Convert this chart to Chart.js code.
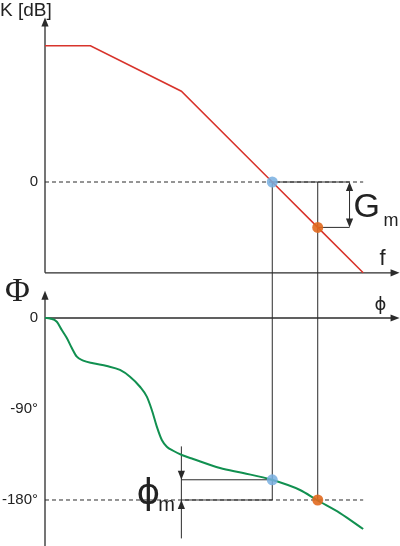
<!DOCTYPE html>
<html>
<head>
<meta charset="utf-8">
<script src="https://cdn.jsdelivr.net/npm/chart.js@4"></script>
<style>
body { margin:0; background:#fff; }
canvas { display:block; }
</style>
</head>
<body>
<canvas id="bode" width="400" height="546"></canvas>
<script>
// x = log frequency (decades), gain in dB
var freq   = [0, 1, 3, 5, 6, 7];
var gainDb = [120, 120, 80, 0, -40, -80];

// phase curve
var phaseFreq = [0, 0.11, 0.26, 0.37, 0.48, 0.59, 0.70, 0.84, 1.06, 1.36, 1.65, 1.87, 2.09, 2.24, 2.35, 2.46, 2.57, 2.68, 2.82, 3.01, 3.26, 3.85, 4.36, 4.99, 5.61, 5.98, 6.49, 7.0];
var phaseDeg  = [0, -0.5, -3.7, -11.9, -19.8, -29.7, -38.3, -42.2, -44.8, -47.5, -51.4, -58.1, -68, -77.8, -91, -107.5, -120.7, -127.3, -131.3, -135.5, -139.5, -148.4, -153.3, -160, -170.1, -180, -192.9, -208.7];

var gainCross = 5, phaseCross = 6;
var phaseAtGainCross = -160, gainAtPhaseCross = -40;
var gainTickVals = [0], gainTickLabels = ['0'];
var phaseTickVals = [0, -90, -180], phaseTickLabels = ['0', '-90°', '-180°'];
var gmBracketFreq = 6.7, pmBracketFreq = 3;
var refLineEnd = 7;
var gainAxis = [-80, 145], phaseAxis = [-226, 27];

var ink = '#2b2b2b';

function pts(xs, ys) {
	var out = [];
	for (var i = 0; i < xs.length; i++) { out.push({x: xs[i], y: ys[i]}); }
	return out;
}

function arrow(ctx, x, y, dir) {
	var L = 9, W = 3.6;
	ctx.beginPath();
	ctx.moveTo(x, y);
	if (dir == 'up')    { ctx.lineTo(x - W, y + L); ctx.lineTo(x + W, y + L); }
	if (dir == 'down')  { ctx.lineTo(x - W, y - L); ctx.lineTo(x + W, y - L); }
	if (dir == 'right') { ctx.lineTo(x - L, y - W); ctx.lineTo(x - L, y + W); }
	ctx.closePath();
	ctx.fill();
}

function seg(ctx, x1, y1, x2, y2) {
	ctx.beginPath(); ctx.moveTo(x1, y1); ctx.lineTo(x2, y2); ctx.stroke();
}

var bodeDecor = {
	id: 'bodeDecor',
	beforeDatasetsDraw: function(chart) {
		var ctx = chart.ctx, X = chart.scales.x, K = chart.scales.yK, P = chart.scales.yPhi;
		var x0 = X.getPixelForValue(0), xTip = X.getPixelForValue(7.8);
		ctx.save();
		ctx.strokeStyle = ink; ctx.fillStyle = ink; ctx.lineWidth = 1.3;

		// gain axes
		seg(ctx, x0, K.getPixelForValue(gainAxis[0]), x0, K.getPixelForValue(gainAxis[1]) + 6);
		arrow(ctx, x0, K.getPixelForValue(gainAxis[1]), 'up');
		seg(ctx, x0, K.getPixelForValue(gainAxis[0]), xTip - 6, K.getPixelForValue(gainAxis[0]));
		arrow(ctx, xTip, K.getPixelForValue(gainAxis[0]), 'right');

		// phase axes
		seg(ctx, x0, P.getPixelForValue(phaseAxis[0]), x0, P.getPixelForValue(phaseAxis[1]) + 6);
		arrow(ctx, x0, P.getPixelForValue(phaseAxis[1]), 'up');
		seg(ctx, x0, P.getPixelForValue(0), xTip - 6, P.getPixelForValue(0));
		arrow(ctx, xTip, P.getPixelForValue(0), 'right');

		// dashed reference lines
		ctx.lineWidth = 1;
		ctx.setLineDash([4, 3]);
		seg(ctx, x0, K.getPixelForValue(0), X.getPixelForValue(refLineEnd), K.getPixelForValue(0));
		seg(ctx, x0, P.getPixelForValue(-180), X.getPixelForValue(refLineEnd), P.getPixelForValue(-180));
		ctx.setLineDash([]);

		// crossover verticals through both plots
		[gainCross, phaseCross].forEach(function(f) {
			var px = X.getPixelForValue(f);
			seg(ctx, px, K.getPixelForValue(0), px, P.getPixelForValue(-180));
		});

		// gain margin bracket
		var gx = X.getPixelForValue(gmBracketFreq);
		seg(ctx, X.getPixelForValue(gainCross), K.getPixelForValue(0), gx, K.getPixelForValue(0));
		seg(ctx, X.getPixelForValue(phaseCross), K.getPixelForValue(gainAtPhaseCross), gx, K.getPixelForValue(gainAtPhaseCross));
		seg(ctx, gx, K.getPixelForValue(0) + 6, gx, K.getPixelForValue(gainAtPhaseCross) - 6);
		arrow(ctx, gx, K.getPixelForValue(0), 'up');
		arrow(ctx, gx, K.getPixelForValue(gainAtPhaseCross), 'down');

		// phase margin bracket
		var bx = X.getPixelForValue(pmBracketFreq);
		seg(ctx, bx, P.getPixelForValue(phaseAtGainCross), X.getPixelForValue(gainCross), P.getPixelForValue(phaseAtGainCross));
		seg(ctx, bx, P.getPixelForValue(-180), X.getPixelForValue(gainCross), P.getPixelForValue(-180));
		seg(ctx, bx, P.getPixelForValue(-127), bx, P.getPixelForValue(-218));
		arrow(ctx, bx, P.getPixelForValue(phaseAtGainCross), 'down');
		arrow(ctx, bx, P.getPixelForValue(-180), 'up');

		// tick labels
		ctx.fillStyle = '#222';
		ctx.font = '15px Arial, "Liberation Sans", sans-serif';
		ctx.textAlign = 'right'; ctx.textBaseline = 'middle';
		gainTickVals.forEach(function(v, i) { ctx.fillText(gainTickLabels[i], x0 - 7, K.getPixelForValue(v)); });
		phaseTickVals.forEach(function(v, i) { ctx.fillText(phaseTickLabels[i], x0 - 7, P.getPixelForValue(v)); });

		// axis titles
		ctx.textAlign = 'left'; ctx.textBaseline = 'alphabetic';
		ctx.font = '19px Arial, "Liberation Sans", sans-serif';
		ctx.fillText('K [dB]', 0, 16);
		ctx.font = '22px Arial, "Liberation Sans", sans-serif';
		ctx.textAlign = 'center';
		ctx.fillText('f', xTip - 17, K.getPixelForValue(gainAxis[0]) - 8);
		ctx.font = '18px "DejaVu Sans", sans-serif';
		ctx.fillText('\u03D5', xTip - 19, P.getPixelForValue(0) - 8);
		ctx.font = '34px "Liberation Serif", "DejaVu Serif", serif';
		ctx.textAlign = 'left';
		ctx.fillText('\u03A6', 5, 301);

		// margin labels
		ctx.font = '34px Arial, "Liberation Sans", sans-serif';
		ctx.fillText('G', gx + 4, K.getPixelForValue(gainAtPhaseCross) - 10);
		ctx.font = '18px Arial, "Liberation Sans", sans-serif';
		ctx.fillText('m', gx + 34, K.getPixelForValue(gainAtPhaseCross) - 1);
		ctx.font = '36px "DejaVu Sans", sans-serif';
		ctx.textAlign = 'right';
		ctx.fillText('\u03D5', bx - 21, P.getPixelForValue(-180) + 4);
		ctx.font = '20px Arial, "Liberation Sans", sans-serif';
		ctx.textAlign = 'left';
		ctx.fillText('m', bx - 23, P.getPixelForValue(-180) + 11);
		ctx.restore();
	}
};

var chart = new Chart(document.getElementById('bode'), {
	type: 'line',
	data: {
		datasets: [
			{ data: [{x: gainCross, y: 0}], yAxisID: 'yK', showLine: false, order: -2,
			  pointRadius: 5.5, pointBorderWidth: 0, pointBackgroundColor: 'rgba(120,175,225,0.85)' },
			{ data: [{x: gainCross, y: phaseAtGainCross}], yAxisID: 'yPhi', showLine: false, order: -2,
			  pointRadius: 5.5, pointBorderWidth: 0, pointBackgroundColor: 'rgba(120,175,225,0.85)' },
			{ data: [{x: phaseCross, y: gainAtPhaseCross}], yAxisID: 'yK', showLine: false, order: -2,
			  pointRadius: 5.5, pointBorderWidth: 0, pointBackgroundColor: 'rgba(225,105,30,0.9)' },
			{ data: [{x: phaseCross, y: -180}], yAxisID: 'yPhi', showLine: false, order: -2,
			  pointRadius: 5.5, pointBorderWidth: 0, pointBackgroundColor: 'rgba(225,105,30,0.9)' },
			{ data: pts(freq, gainDb), yAxisID: 'yK', order: -1,
			  borderColor: '#d8342c', borderWidth: 1.6, pointRadius: 0, tension: 0 },
			{ data: pts(phaseFreq, phaseDeg), yAxisID: 'yPhi', order: -1,
			  borderColor: '#119050', borderWidth: 2, pointRadius: 0, cubicInterpolationMode: 'monotone' }
		]
	},
	options: {
		responsive: false,
		animation: false,
		events: [],
		layout: { autoPadding: false, padding: { left: 45, right: 0, top: 0, bottom: 0 } },
		plugins: { legend: { display: false }, tooltip: { enabled: false } },
		scales: {
			x: { type: 'linear', min: 0, max: 7.81, display: false },
			yK: { type: 'linear', min: -320.7, max: 160.35, display: false },
			yPhi: { type: 'linear', min: -225.5, max: 314.5, display: false }
		}
	},
	plugins: [bodeDecor]
});
</script>
</body>
</html>
